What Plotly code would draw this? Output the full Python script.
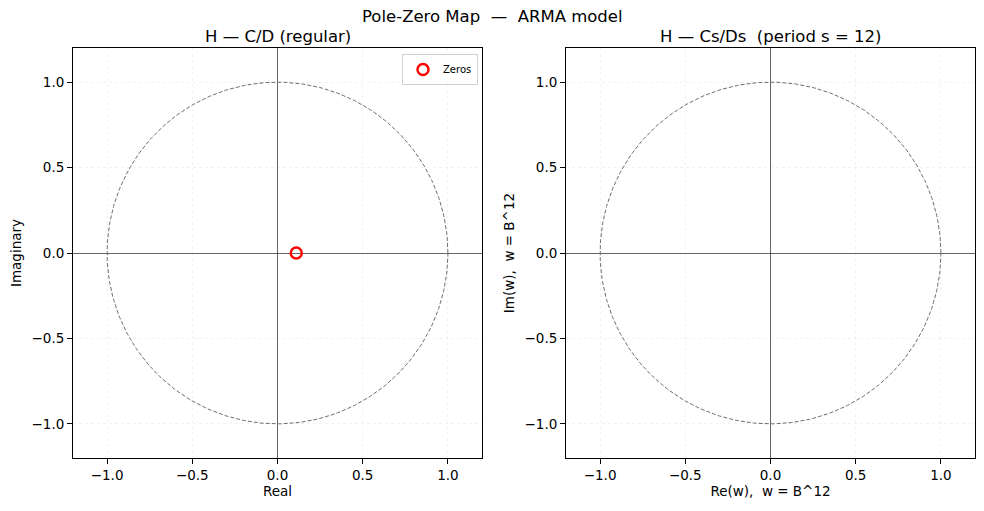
import numpy as np
import plotly.graph_objects as go

# Data
zeros_re = [0.11]
zeros_im = [0.0]
unit_radius = 1.0
tick_vals = [-1.0, -0.5, 0.0, 0.5, 1.0]
tick_text = ["\u22121.0", "\u22120.5", "0.0", "0.5", "1.0"]

theta = np.linspace(0, 2 * np.pi, 400)
cx = unit_radius * np.cos(theta)
cy = unit_radius * np.sin(theta)

FONT = "DejaVu Sans"
fig = go.Figure()

for xa, ya in [("x", "y"), ("x2", "y2")]:
    fig.add_trace(go.Scatter(x=cx, y=cy, mode="lines", xaxis=xa, yaxis=ya,
                             line=dict(color="rgba(110,110,110,1)", width=1, dash="4px,2px"),
                             showlegend=False, hoverinfo="skip"))

fig.add_trace(go.Scatter(x=zeros_re, y=zeros_im, mode="markers", name="Zeros",
                         xaxis="x", yaxis="y",
                         marker=dict(symbol="circle-open", size=11, color="red",
                                     line=dict(color="red", width=2.4))))

axis_common = dict(range=[-1.2, 1.2], tickvals=tick_vals, ticktext=tick_text,
                   showline=True, mirror=True, linecolor="black", linewidth=1,
                   ticks="outside", ticklen=5, tickcolor="black",
                   showgrid=True, gridcolor="rgba(0,0,0,0.05)", griddash="dot", gridwidth=1,
                   zeroline=True, zerolinecolor="rgba(0,0,0,0.6)", zerolinewidth=0.8,
                   tickfont=dict(size=13.5, color="black", family=FONT))

TF = dict(size=13.5, family=FONT, color="black")

fig.update_layout(
    width=984, height=511,
    margin=dict(l=0, r=0, t=0, b=0),
    paper_bgcolor="white", plot_bgcolor="white",
    font=dict(family=FONT, color="black"),
    xaxis=dict(domain=[73/984, 482/984], anchor="y",
               title=dict(text="Real", font=TF, standoff=4), **axis_common),
    yaxis=dict(domain=[1-458/511, 1-48/511], anchor="x",
               title=dict(text="Imaginary", font=TF, standoff=6), **axis_common),
    xaxis2=dict(domain=[566/984, 975/984], anchor="y2",
                title=dict(text="Re(w),  w = B^12", font=TF, standoff=4), **axis_common),
    yaxis2=dict(domain=[1-458/511, 1-48/511], anchor="x2",
                title=dict(text="Im(w),  w = B^12", font=TF, standoff=6), **axis_common),
    legend=dict(x=478/984, y=1-54/511, xanchor="right", yanchor="top",
                bgcolor="rgba(255,255,255,0.8)", bordercolor="#d0d0d0", borderwidth=1,
                font=dict(size=10, family=FONT), itemwidth=30,
                tracegroupgap=0),
    annotations=[
        dict(text="Pole-Zero Map  \u2014  ARMA model", x=0.5, y=1-16/511, xref="paper", yref="paper",
             showarrow=False, font=dict(size=16.5), xanchor="center", yanchor="middle"),
        dict(text="H \u2014 C/D (regular)", x=(73+482)/2/984, y=1-37/511, xref="paper", yref="paper",
             showarrow=False, font=dict(size=16.5), xanchor="center", yanchor="middle"),
        dict(text="H \u2014 Cs/Ds  (period s = 12)", x=(566+975)/2/984, y=1-37/511, xref="paper", yref="paper",
             showarrow=False, font=dict(size=16.5), xanchor="center", yanchor="middle"),
    ],
)

fig.write_html("out.html")
